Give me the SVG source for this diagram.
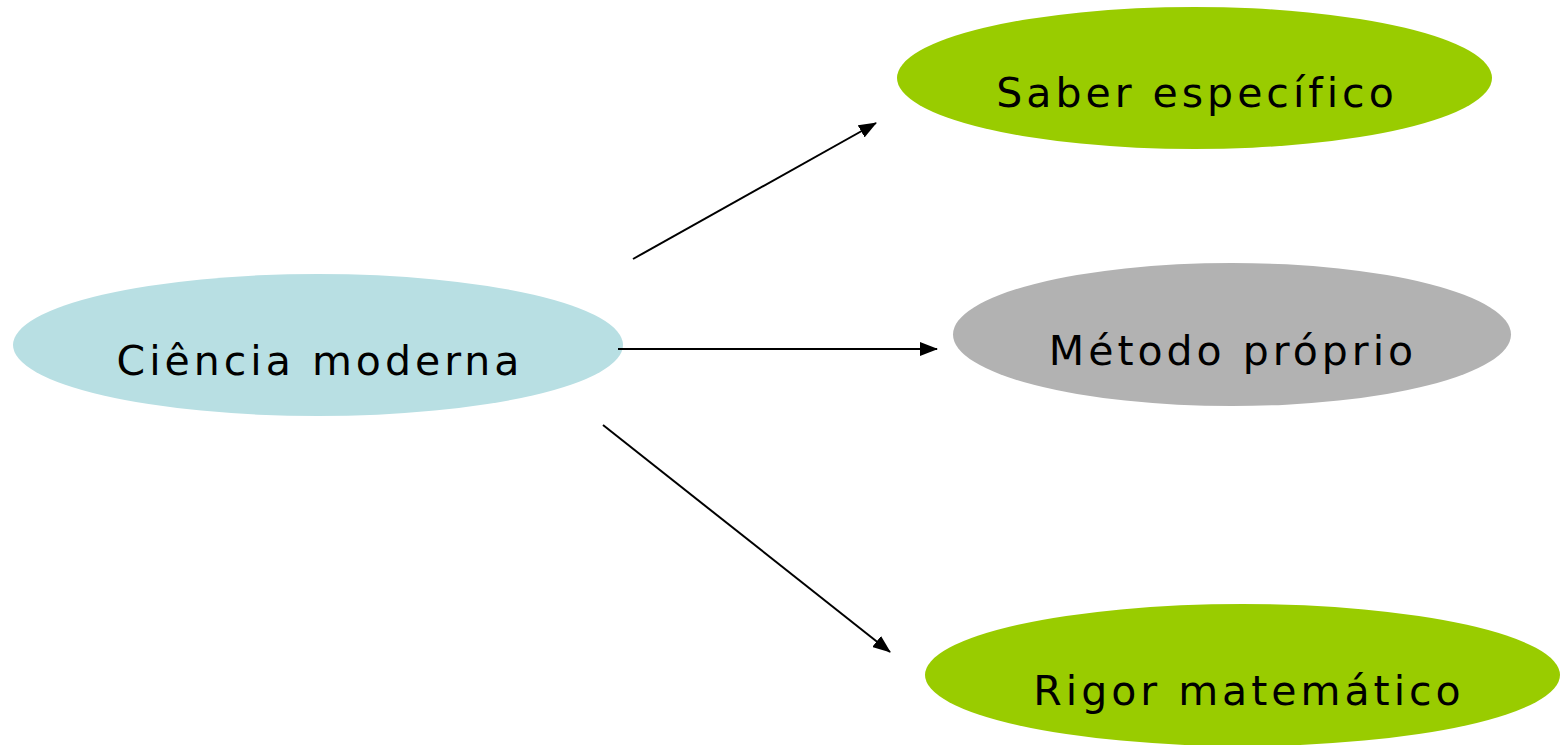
<svg xmlns="http://www.w3.org/2000/svg" width="1561" height="745" viewBox="0 0 1561 745">
  <style>
    .label { font-family: "DejaVu Sans", Verdana, sans-serif; font-size: 41px; letter-spacing: 4px; fill: #000; text-anchor: middle; }
    .edge { stroke: #000; stroke-width: 2; fill: none; marker-end: url(#arrow); }
  </style>
  <defs>
    <marker id="arrow" markerUnits="userSpaceOnUse" markerWidth="18" markerHeight="14" refX="17" refY="7" orient="auto">
      <path d="M0,0 L18,7 L0,14 Z" fill="#000"/>
    </marker>
  </defs>
  <rect width="1561" height="745" fill="#fff"/>

  <g id="node-ciencia">
    <ellipse cx="318" cy="345" rx="305" ry="71" fill="#b8dfe3"/>
    <text class="label" x="320" y="375">Ciência moderna</text>
  </g>
  <g id="node-saber">
    <ellipse cx="1194.5" cy="78" rx="297.5" ry="71" fill="#99cc00"/>
    <text class="label" x="1197" y="107">Saber específico</text>
  </g>
  <g id="node-metodo">
    <ellipse cx="1232" cy="334.5" rx="279" ry="71.5" fill="#b2b2b2"/>
    <text class="label" x="1233" y="365">Método próprio</text>
  </g>
  <g id="node-rigor">
    <ellipse cx="1242.5" cy="675" rx="317.5" ry="71" fill="#99cc00"/>
    <text class="label" x="1249" y="705">Rigor matemático</text>
  </g>

  <g id="connectors">
    <line class="edge" x1="633" y1="259" x2="876" y2="123"/>
    <line class="edge" x1="618" y1="349" x2="937" y2="349"/>
    <line class="edge" x1="603" y1="425" x2="890" y2="652"/>
  </g>
</svg>
